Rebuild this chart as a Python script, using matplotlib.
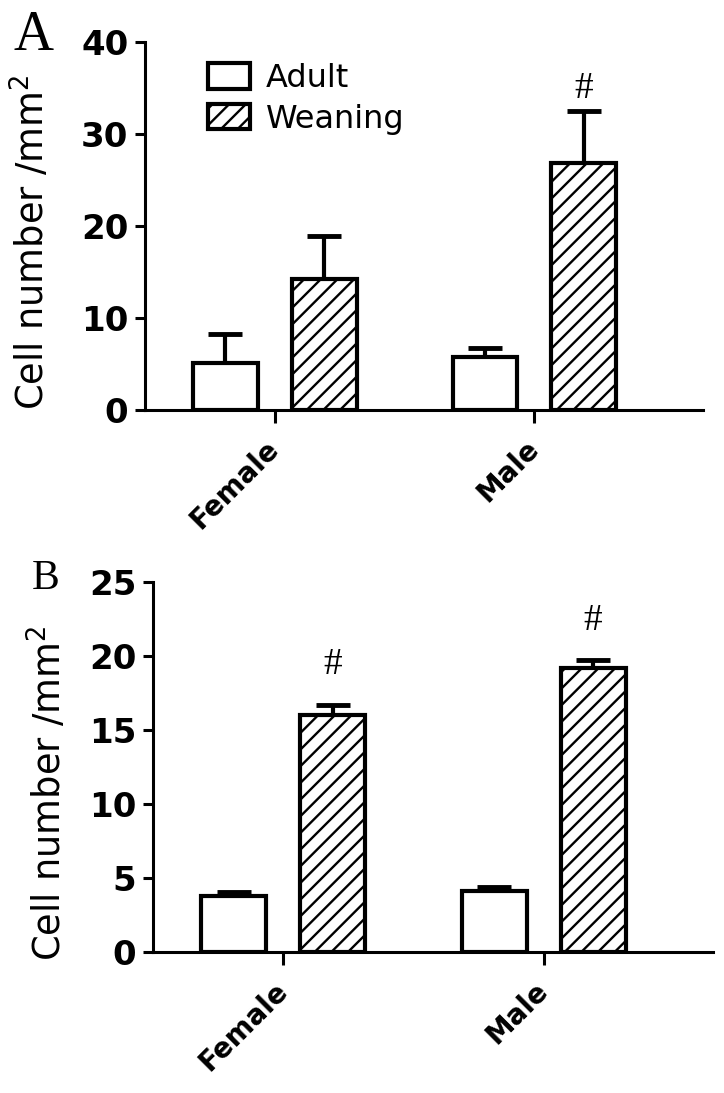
import matplotlib
matplotlib.use("Agg")
import matplotlib.pyplot as plt
from matplotlib.patches import Patch
import numpy as np

plt.rcParams['font.family'] = ['DejaVu Sans']
plt.rcParams['hatch.linewidth'] = 1.7

groups = ['Female', 'Male']
series = ['Adult', 'Weaning']

# panel A
a_adult = [5.1, 5.8]
a_adult_err = [3.2, 0.9]
a_wean = [14.2, 26.8]
a_wean_err = [4.7, 5.7]
a_sig = [False, True]

# panel B
b_adult = [3.8, 4.1]
b_adult_err = [0.25, 0.3]
b_wean = [16.0, 19.2]
b_wean_err = [0.7, 0.5]
b_sig = [True, True]

fig = plt.figure(figsize=(7.24, 10.93), dpi=100)
axA = fig.add_axes([0.2003, 0.6249, 0.7707, 0.3367])
axB = fig.add_axes([0.2113, 0.1290, 0.7735, 0.3385])

x = np.arange(len(groups))
w = 0.25
off = 0.19


def panel(ax, adult, adult_err, wean, wean_err, sig, ymax, step, sig_off):
    for vals, errs, dx, hatch in [(adult, adult_err, -off, None), (wean, wean_err, off, '//')]:
        ax.bar(x + dx, vals, width=w, facecolor='white', edgecolor='black',
               linewidth=3, hatch=hatch, zorder=2)
        ax.errorbar(x + dx, vals, yerr=[np.zeros(len(vals)), errs], fmt='none',
                    ecolor='black', elinewidth=3, capsize=12, capthick=3.5, zorder=1)
    for i, s in enumerate(sig):
        if s:
            ax.text(x[i] + off, wean[i] + wean_err[i] + sig_off, '#', ha='center', va='center',
                    fontsize=27, family='Liberation Serif')
    ax.set_xlim(-0.5, 1.65)
    ax.set_ylim(0, ymax)
    ax.set_yticks(np.arange(0, ymax + 0.1, step))
    ax.set_xticks(x)
    ax.set_xticklabels(groups, rotation=45, ha='right', va='center', rotation_mode='anchor',
                       fontsize=20, fontweight='bold')
    for lab in ax.get_yticklabels():
        lab.set_fontsize(24.5)
        lab.set_fontweight('bold')
    ax.spines['top'].set_visible(False)
    ax.spines['right'].set_visible(False)
    ax.spines['left'].set_linewidth(2.2)
    ax.spines['bottom'].set_linewidth(2.2)
    ax.spines['left'].set_bounds(0, ymax)
    ax.tick_params(axis='y', direction='out', length=7, width=2.2, pad=5)
    ax.tick_params(axis='x', direction='out', length=9, width=2.2, pad=16)
    ax.set_ylabel('Cell number /mm$^2$', fontsize=26.5)


panel(axA, a_adult, a_adult_err, a_wean, a_wean_err, a_sig, 40, 10, 2.4)
panel(axB, b_adult, b_adult_err, b_wean, b_wean_err, b_sig, 25, 5, 2.7)
axA.yaxis.set_label_coords(-0.165, 0.457)
axB.yaxis.set_label_coords(-0.148, 0.43)

handles = [Patch(facecolor='white', edgecolor='black', linewidth=3, label=series[0]),
           Patch(facecolor='white', edgecolor='black', linewidth=3, hatch='//', label=series[1])]
fig.legend(handles=handles, loc='upper left', bbox_to_anchor=(208 / 724, 1 - 63 / 1093),
           frameon=False, fontsize=23, handlelength=1.3, handleheight=0.85,
           handletextpad=0.5, labelspacing=0.3, borderpad=0, borderaxespad=0)

fig.text(13 / 724, 1 - 50 / 1093, 'A', fontsize=40, family='Liberation Serif', va='baseline')
fig.text(32 / 724, 1 - 589 / 1093, 'B', fontsize=30, family='Liberation Serif', va='baseline')

fig.savefig('out.png', dpi=100)
